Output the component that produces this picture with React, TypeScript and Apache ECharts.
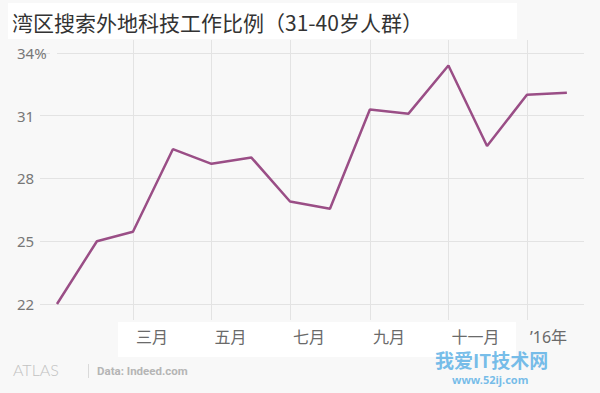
import React, { useEffect, useRef } from "react";
import * as echarts from "echarts";

const titleText = "湾区搜索外地科技工作比例（31-40岁人群）";
const months = [
  "2015-01", "2015-02", "2015-03", "2015-04", "2015-05", "2015-06", "2015-07",
  "2015-08", "2015-09", "2015-10", "2015-11", "2015-12", "2016-01", "2016-02",
];
const shares = [22.0, 25.0, 25.45, 29.4, 28.7, 29.0, 26.9, 26.55, 31.3, 31.1, 33.4, 29.55, 32.0, 32.1];
const yTicks = [22, 25, 28, 31, 34];
const xTickMonths = ["2015-03", "2015-05", "2015-07", "2015-09", "2015-11", "2016-01"];
const xTickLabels = ["三月", "五月", "七月", "九月", "十一月", "’16年"];
const sourceText = "Data: Indeed.com";
const brandText = "ATLAS";
const watermarkText = "我爱IT技术网";
const watermarkUrl = "www.52ij.com";

const toTs = (s: string) => {
  const [y, m] = s.split("-").map(Number);
  return Date.UTC(y, m - 1, 1);
};

const DAY = 86400000;

export default function App() {
  const ref = useRef<HTMLDivElement>(null);
  useEffect(() => {
    if (!ref.current) return;
    const chart = echarts.init(ref.current, null, { renderer: "svg" });
    const start = toTs(months[0]);
    const xTickTs = xTickMonths.map(toTs);
    const labelFor = (v: number) => {
      let best = 0;
      let bd = Infinity;
      xTickTs.forEach((t, i) => {
        const d = Math.abs(t - v);
        if (d < bd) { bd = d; best = i; }
      });
      return xTickLabels[best];
    };
    chart.setOption({
      animation: false,
      backgroundColor: "#f8f8f8",
      textStyle: { fontFamily: "'Noto Sans CJK SC', 'Noto Sans', sans-serif" },
      grid: { left: 40, right: 16, top: 40, bottom: 73, containLabel: false },
      xAxis: {
        type: "value",
        min: start - 13.2 * DAY,
        max: start + 409.3 * DAY,
        axisLine: { show: false },
        axisTick: { show: false, customValues: xTickTs },
        splitLine: { show: true, lineStyle: { color: "#e3e3e3", width: 1 } },
        axisLabel: {
          customValues: xTickTs,
          formatter: (v: number) => labelFor(v),
          align: "left",
          padding: [0, 0, 0, 3],
          margin: 9,
          fontSize: 16,
          color: "#6a6a6a",
          fontFamily: "'Noto Sans', 'Noto Sans CJK SC', sans-serif",
        },
      },
      yAxis: {
        type: "value",
        min: 21.235,
        max: 34.62,
        axisLine: { show: false },
        axisTick: { show: false, customValues: yTicks },
        splitLine: { show: true, lineStyle: { color: "#e3e3e3", width: 1 } },
        axisLabel: {
          customValues: yTicks,
          formatter: (v: number) => (v === 34 ? "34%" : String(v)),
          align: "left",
          margin: 23,
          fontSize: 15,
          color: "#777777",
          fontFamily: "'Noto Sans', sans-serif",
        },
      },
      series: [
        {
          type: "line",
          data: months.map((m, i) => [toTs(m), shares[i]]),
          showSymbol: false,
          symbol: "none",
          lineStyle: { color: "#9a4e86", width: 2.5 },
          z: 5,
        },
      ],
      graphic: [
        { type: "rect", z: -10, shape: { x: 8, y: 3, width: 509, height: 36 }, style: { fill: "#ffffff" } },
        { type: "rect", z: -10, shape: { x: 118, y: 322, width: 398, height: 35 }, style: { fill: "#ffffff" } },
        { type: "rect", z: 10, shape: { x: 50, y: 50, width: 7, height: 6 }, style: { fill: "#f8f8f8" } },
        {
          type: "text", z: 20, left: 12, top: 11,
          style: { text: titleText, fontSize: 21, fill: "#333333", fontFamily: "'Noto Sans CJK SC', sans-serif" },
        },
        {
          type: "text", z: 20, left: 13, top: 361,
          style: { text: brandText, fontSize: 16, fill: "#c2c2c2", fontWeight: 300, fontFamily: "Lato, 'Open Sans', sans-serif" },
        },
        { type: "rect", z: 20, shape: { x: 88, y: 364, width: 1, height: 14 }, style: { fill: "#dadada" } },
        {
          type: "text", z: 20, left: 97, top: 365,
          style: { text: sourceText, fontSize: 11.5, fontWeight: "bold", fill: "#b5b5b5", fontFamily: "Roboto, sans-serif" },
        },
        {
          type: "text", z: 20, left: 435, top: 350,
          style: { text: watermarkText, fontSize: 19, fontWeight: "bold", fill: "#5fb2e6", opacity: 0.85, fontFamily: "'Noto Sans CJK SC', sans-serif" },
        },
        {
          type: "text", z: 20, left: 452, top: 374,
          style: { text: watermarkUrl, fontSize: 11, fontWeight: "bold", fill: "#5fb2e6", opacity: 0.85, fontFamily: "'Noto Sans', sans-serif" },
        },
      ],
    });
    return () => chart.dispose();
  }, []);
  return <div ref={ref} style={{ position: "fixed", left: 0, top: 0, width: 600, height: 393 }} />;
}
